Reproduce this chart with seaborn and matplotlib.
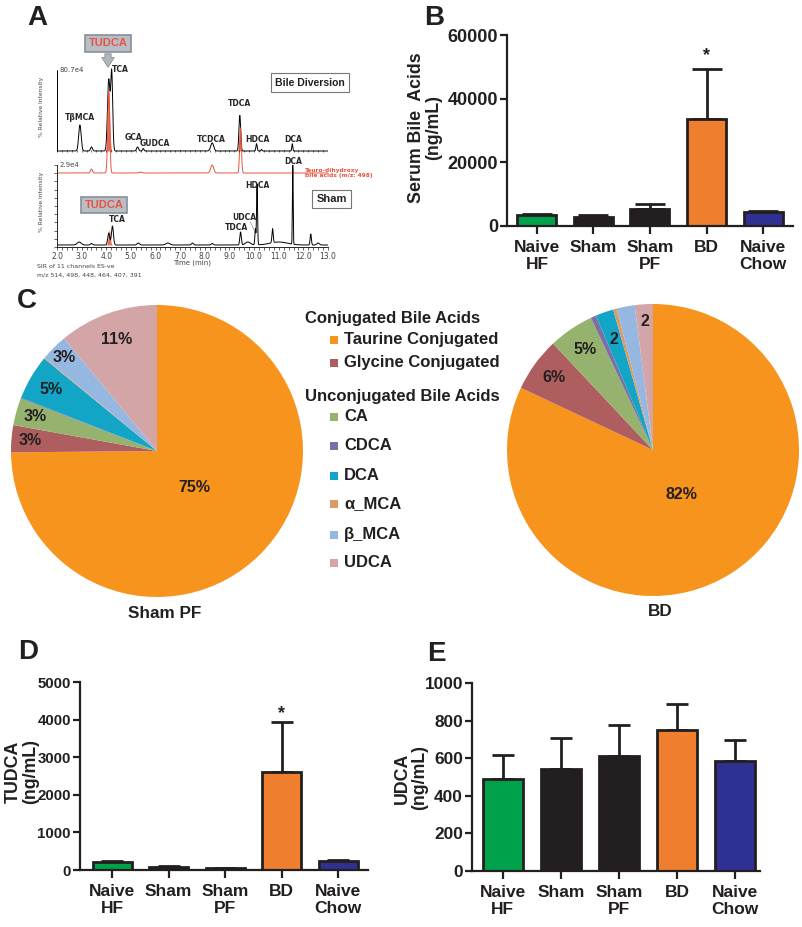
import numpy as np
import pandas as pd
import seaborn as sns
import matplotlib.pyplot as plt
from matplotlib.patches import Rectangle

# ---- data ----
groups = ['Naive\nHF', 'Sham', 'Sham\nPF', 'BD', 'Naive\nChow']
bar_colors = ['#00A14B', '#231F20', '#231F20', '#EF7F2F', '#2E3192']

serum_mean = [3500, 2900, 5400, 33500, 4400]
serum_sem = [300, 600, 1600, 15800, 300]
tudca_mean = [220, 80, 50, 2600, 230]
tudca_sem = [30, 20, 10, 1330, 40]
udca_mean = [490, 540, 610, 750, 585]
udca_sem = [125, 170, 165, 140, 110]

ba_names = ['Taurine Conjugated', 'Glycine Conjugated', 'CA', 'CDCA', 'DCA',
            'α_MCA', 'β_MCA', 'UDCA']
ba_colors = ['#F7941D', '#AE5E5E', '#95B26E', '#7C6FA6', '#13A5C6',
             '#DC9A68', '#96B8E0', '#D4A5A7']
shampf_pct = [75, 3, 3, 0.1, 5, 0.1, 3, 11]
shampf_lab = ['75%', '3%', '3%', '', '5%', '', '3%', '11%']
bd_pct = [82, 6, 5, 0.6, 2, 0.4, 2, 2]
bd_lab = ['82%', '6%', '5%', '', '2', '', '', '2']

# chromatogram peak tables (time min, height, sigma min)
bdiv_t = [2.93, 3.40, 4.10, 4.22, 5.27, 5.50, 8.30, 9.42, 10.10, 10.30, 11.55]
bdiv_h = [0.32, 0.05, 0.88, 0.96, 0.05, 0.03, 0.10, 0.44, 0.09, 0.02, 0.09]
bdiv_w = [0.05, 0.04, 0.05, 0.04, 0.04, 0.03, 0.06, 0.035, 0.025, 0.02, 0.02]
bdiv_red_t = [4.10, 9.42]
bdiv_red_h = [0.73, 0.28]
bdiv_red_w = [0.04, 0.03]
tdh_t = [3.40, 4.10, 5.40, 8.30, 9.45]
tdh_h = [4, 83, 1, 8, 45]
tdh_w = [0.04, 0.04, 0.05, 0.06, 0.035]
sham_t = [2.90, 3.40, 4.10, 4.25, 5.30, 6.50, 7.50, 8.30, 9.45, 9.75, 10.05,
          10.12, 10.75, 11.00, 11.57, 12.30, 12.60]
sham_h = [3, 1.5, 12, 19, 2, 2, 2, 1.5, 13, 3, 16, 61, 14, 3, 79, 11, 2]
sham_w = [0.08, 0.04, 0.04, 0.04, 0.05, 0.08, 0.04, 0.04, 0.03, 0.1, 0.02,
          0.02, 0.025, 0.35, 0.015, 0.025, 0.05]
sham_red_t = [4.12]
sham_red_h = [15]
sham_red_w = [0.04]

# ---- style ----
sns.set_style('ticks')
plt.rcParams['font.family'] = ['Liberation Sans', 'DejaVu Sans']
plt.rcParams['font.weight'] = 'bold'
DARK = '#231F20'
RED = '#E8533F'

W, H = 802, 927


def rect(l, t, r, b):
    return [l / W, 1 - b / H, (r - l) / W, (b - t) / H]


def peaks(t, times, heights, widths):
    y = np.zeros_like(t)
    for c, h, w in zip(times, heights, widths):
        y += h * np.exp(-0.5 * ((t - c) / w) ** 2)
    return y


fig = plt.figure(figsize=(W / 100, H / 100), dpi=100)

# panel letters
for letter, (x, y) in zip('ABCDE', [(37, 18), (434, 18), (27, 301), (28, 652), (436, 654)]):
    fig.text(x / W, 1 - y / H, letter, fontsize=20, fontweight='bold',
             ha='center', va='center', color=DARK)

# ---- A: chromatogram ----
ax = fig.add_axes(rect(57, 30, 328, 250))
t = np.linspace(2, 13, 2000)
up0, upS, red0, lo0 = 96, 81, 74, 2
ax.plot(t, up0 + upS * peaks(t, bdiv_t, bdiv_h, bdiv_w), color='black', lw=0.7)
ax.fill_between(t, up0, up0 + upS * peaks(t, bdiv_red_t, bdiv_red_h, bdiv_red_w),
                color=RED, lw=0, alpha=0.85, zorder=1)
ax.plot(t, red0 + peaks(t, tdh_t, tdh_h, tdh_w), color=RED, lw=0.7)
ax.plot(t, lo0 + peaks(t, sham_t, sham_h, sham_w), color='black', lw=0.7)
ax.fill_between(t, lo0, lo0 + peaks(t, sham_red_t, sham_red_h, sham_red_w),
                color=RED, lw=0, alpha=0.85, zorder=1)
ax.vlines(np.arange(2, 13.01, 0.2), up0 - 1.2, up0 + 1.2, color='black', lw=0.4)
ax.vlines(2, up0, up0 + upS, color='black', lw=0.7)
ax.hlines(np.arange(up0, up0 + upS + 1, 8.1), 1.93, 2, color='black', lw=0.5)
ax.set_xlim(2, 13)
ax.set_ylim(-3, 217)
for s in ['top', 'right']:
    ax.spines[s].set_visible(False)
ax.spines['bottom'].set_position(('data', 0))
ax.spines['left'].set_bounds(0, 82)
for s in ['bottom', 'left']:
    ax.spines[s].set_linewidth(0.7)
ax.set_xticks(np.arange(2, 13.01, 1.0))
ax.set_xticklabels([f'{v:.1f}' for v in np.arange(2, 13.01, 1.0)],
                   fontsize=5.5, fontweight='normal', family='DejaVu Sans', color='#444444')
ax.set_xticks(np.arange(2, 13.01, 0.2), minor=True)
ax.set_yticks(np.arange(0, 83, 8.2))
ax.set_yticklabels([])
ax.tick_params(axis='both', which='both', length=2, width=0.5, pad=1.5)
ax.patch.set_alpha(0)

small = dict(fontsize=5.5, fontweight='bold', family='DejaVu Sans', ha='center', va='center')
for txt, x, y in [('TβMCA', 2.93, 130), ('TCA', 4.56, 177), ('GCA', 5.12, 109),
                  ('GUDCA', 5.98, 103), ('TCDCA', 8.25, 108), ('TDCA', 9.39, 143),
                  ('HDCA', 10.12, 107), ('DCA', 11.58, 107), ('DCA', 11.58, 86),
                  ('HDCA', 10.12, 61), ('UDCA', 9.59, 29), ('TDCA', 9.27, 19),
                  ('TCA', 4.45, 28)]:
    ax.text(x, y, txt, **small)
ax.plot([9.85, 10.02], [25, 16], color='#777777', lw=0.4)
norm = dict(fontweight='normal', family='DejaVu Sans', color='#444444')
ax.text(2.1, 177, '80.7e4', fontsize=5, ha='left', va='center', **norm)
ax.text(2.1, 82, '2.9e4', fontsize=5, ha='left', va='center', **norm)
for yy in [140, 45]:
    ax.text(1.39, yy, '% Relative Intensity', rotation=90, fontsize=4.3,
            ha='center', va='center', **norm)
ax.text(7.5, -16, 'Time (min)', fontsize=5, ha='center', va='center', **norm)
ax.text(1.2, -20, 'SIR of 11 channels ES-ve', fontsize=4.5, ha='left', va='center', **norm)
ax.text(1.2, -28, 'm/z 514, 498, 448, 464, 407, 391', fontsize=4.5, ha='left',
        va='center', **norm)
ax.text(12.07, 74, 'Tauro-dihydroxy\nbile acids (m/z: 498)', fontsize=4.2,
        color=RED, ha='left', va='center', family='DejaVu Sans', linespacing=1.1)
box_g = dict(boxstyle='square,pad=0.3', fc='#B9BDC5', ec='#8A8F99', lw=1.2)
ax.text(4.07, 203.5, 'TUDCA', fontsize=8, color=RED, ha='center', va='center', bbox=box_g)
ax.text(3.91, 42, 'TUDCA', fontsize=8, color=RED, ha='center', va='center', bbox=box_g)
ax.annotate('', xy=(4.07, 177), xytext=(4.07, 196),
            arrowprops=dict(arrowstyle='simple,head_width=0.9,head_length=0.7,tail_width=0.45',
                            fc='#B0B4BC', ec='#8A8F99', lw=0.6))
box_w = dict(boxstyle='square,pad=0.4', fc='white', ec='#777777', lw=0.8)
ax.text(12.27, 164.5, 'Bile Diversion', fontsize=7.5, ha='center', va='center',
        color=DARK, bbox=box_w, clip_on=False)
ax.text(13.15, 48, 'Sham', fontsize=8, ha='center', va='center', color=DARK,
        bbox=box_w, clip_on=False)


# ---- bar panels ----
def bar_panel(r, means, sems, ymax, step, xlim, cap, ylab, lab_xy, tick_fs, star=None):
    ax = fig.add_axes(rect(*r))
    df = pd.DataFrame({'group': groups, 'value': means})
    sns.barplot(data=df, x='group', y='value', hue='group', palette=bar_colors,
                saturation=1, legend=False, width=0.69, edgecolor=DARK, linewidth=2,
                ax=ax)
    ax.errorbar(range(len(groups)), means, yerr=[np.zeros(len(sems)), sems], fmt='none',
                ecolor=DARK, elinewidth=2, capsize=cap, capthick=2, zorder=0.5)
    ax.set_xlim(*xlim)
    ax.set_ylim(0, ymax)
    ax.set_yticks(np.arange(0, ymax + 1, step))
    ax.set_xlabel('')
    ax.set_ylabel('')
    sns.despine(ax=ax)
    for s in ['left', 'bottom']:
        ax.spines[s].set_linewidth(1.6)
        ax.spines[s].set_color(DARK)
    ax.tick_params(axis='y', labelsize=tick_fs, width=1.6, length=5, pad=1.5, colors=DARK)
    ax.tick_params(axis='x', labelsize=12.5, width=1.6, length=6, pad=4, colors=DARK)
    for lab in ax.get_xticklabels():
        lab.set_va('top')
        lab.set_linespacing(1.2)
        lab.set_fontweight('bold')
    for lab in ax.get_yticklabels():
        lab.set_fontweight('bold')
    fig.text(lab_xy[0] / W, 1 - lab_xy[1] / H, ylab, rotation=90, fontsize=12.8,
             fontweight='bold', ha='center', va='center', color=DARK, linespacing=1.0)
    if star is not None:
        ax.text(3, star, '*', fontsize=13, ha='center', va='center', color=DARK)
    return ax


bar_panel((507, 35, 793, 226), serum_mean, serum_sem, 60000, 20000, (-0.53, 4.53), 11,
          'Serum Bile  Acids\n(ng/mL)', (425, 128), 13, star=53500)
bar_panel((80, 682, 368, 870), tudca_mean, tudca_sem, 5000, 1000, (-0.57, 4.53), 8,
          'TUDCA\n(ng/mL)', (22, 772), 10.8, star=4150)
bar_panel((472, 683, 760, 871), udca_mean, udca_sem, 1000, 200, (-0.53, 4.43), 8,
          'UDCA\n(ng/mL)', (411, 778), 12.4)


# ---- C: pies ----
def pie_panel(r, pct, labels, dists, title, title_xy):
    ax = fig.add_axes(rect(*r))
    wedges, _ = ax.pie(pct, colors=ba_colors, startangle=90, counterclock=False,
                       radius=1, wedgeprops=dict(linewidth=0))
    ax.set_xlim(-1, 1)
    ax.set_ylim(-1, 1)
    ax.set_aspect('equal')
    for w, lab, d in zip(wedges, labels, dists):
        if lab:
            a = np.deg2rad((w.theta1 + w.theta2) / 2)
            ax.text(d * np.cos(a), d * np.sin(a), lab, fontsize=11.5, fontweight='bold',
                    ha='center', va='center', color=DARK)
    fig.text(title_xy[0] / W, 1 - title_xy[1] / H, title, fontsize=12.3,
             fontweight='bold', ha='center', va='center', color=DARK)


pie_panel((11, 305, 303, 597), shampf_pct, shampf_lab,
          [0.36, 0.87, 0.87, 0, 0.84, 0, 0.90, 0.81], 'Sham PF', (165, 613))
pie_panel((507, 304, 799, 596), bd_pct, bd_lab,
          [0.36, 0.84, 0.83, 0, 0.80, 0, 0, 0.885], 'BD', (660, 612))

# legend
lg = fig.add_axes(rect(295, 300, 505, 590))
lg.set_xlim(295, 505)
lg.set_ylim(590, 300)
lg.axis('off')
lg.text(305, 319, 'Conjugated Bile Acids', fontsize=12, fontweight='bold',
        ha='left', va='center', color=DARK)
lg.text(305, 397, 'Unconjugated Bile Acids', fontsize=12, fontweight='bold',
        ha='left', va='center', color=DARK)
for name, col, yy in zip(ba_names, ba_colors, [340, 363, 417, 446, 476, 504, 535, 563]):
    lg.add_patch(Rectangle((330, yy - 4), 8, 8, fc=col, ec='none'))
    lg.text(344, yy, name, fontsize=12, fontweight='bold', ha='left', va='center',
            color=DARK)

fig.savefig('out.png', dpi=100)
